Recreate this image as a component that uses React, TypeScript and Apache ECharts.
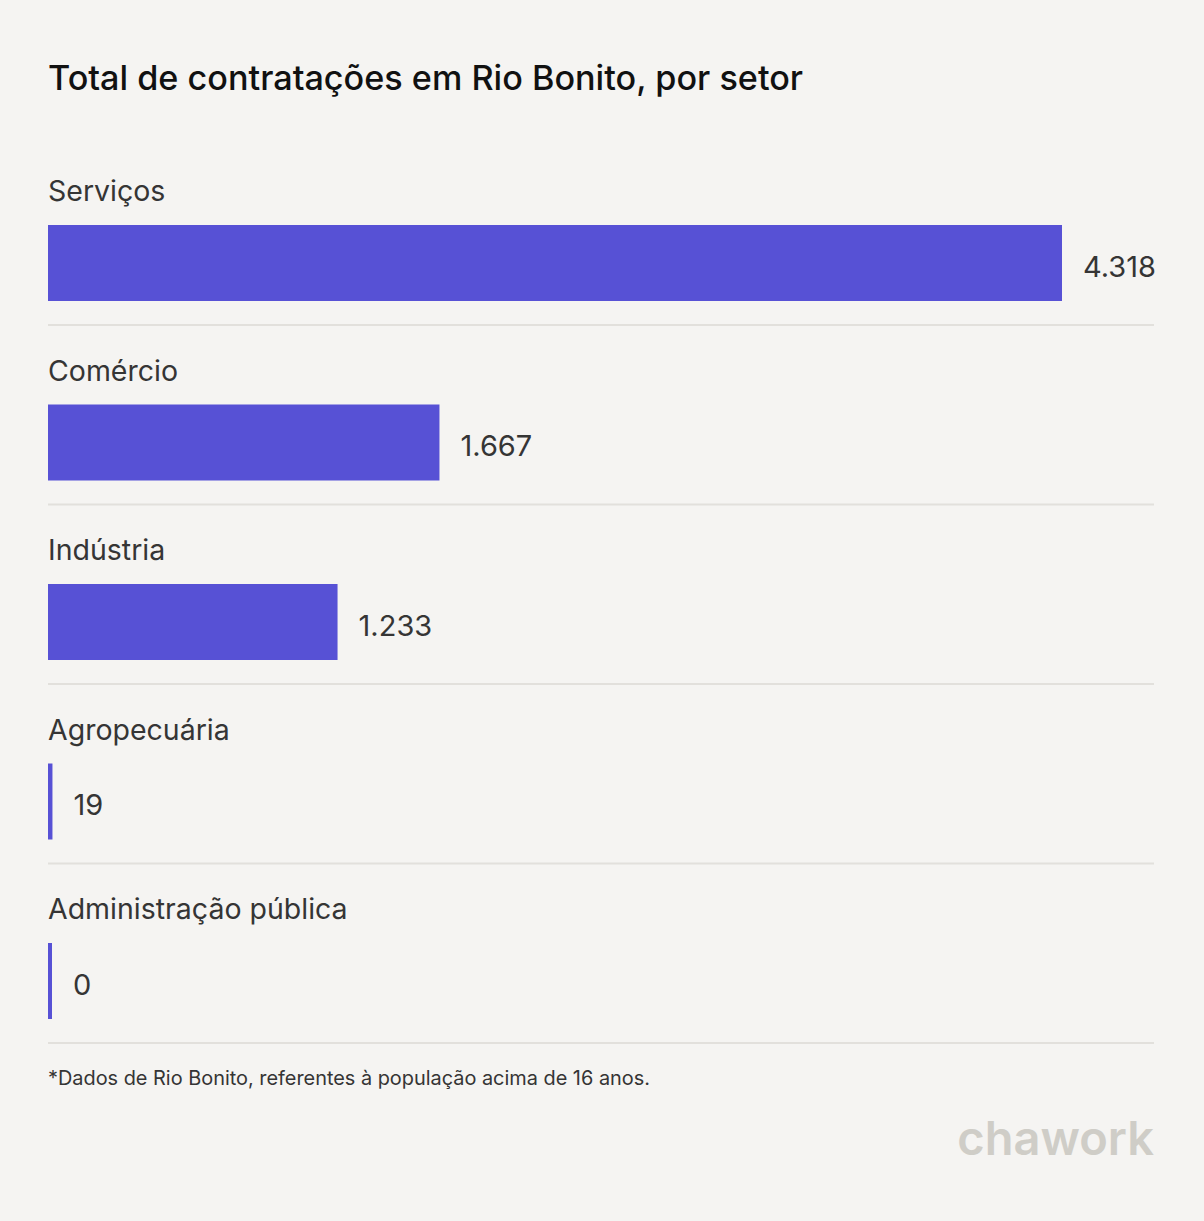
import React, { useEffect, useRef } from "react";
import * as echarts from "echarts";

const title = "Total de contratações em Rio Bonito, por setor";
const footnote = "*Dados de Rio Bonito, referentes à população acima de 16 anos.";
const brand = "chawork";
const categories = ["Serviços", "Comércio", "Indústria", "Agropecuária", "Administração pública"];
const values = [4318, 1667, 1233, 19, 0];

const BG = "#f5f4f2";
const BAR = "#5751d5";
const TEXT = "#353535";
const FONT = "Inter, 'Noto Sans', sans-serif";

const fmt = (v: number) => String(v).replace(/\B(?=(\d{3})+(?!\d))/g, ".");

export default function App() {
  const ref = useRef<HTMLDivElement>(null);
  useEffect(() => {
    document.body.style.margin = "0";
    const chart = echarts.init(ref.current!, null, { renderer: "svg" });
    const gridTop = 173.25;
    const gridH = 897.5;
    chart.setOption({
      animation: false,
      backgroundColor: BG,
      textStyle: { fontFamily: FONT },
      grid: { left: 48, width: 1014, top: gridTop, height: gridH },
      xAxis: { type: "value", min: 0, max: 4318, show: false },
      yAxis: {
        type: "category",
        data: categories,
        inverse: true,
        show: false,
      },
      series: [
        {
          type: "bar",
          data: values,
          barWidth: 76,
          barMinHeight: 4,
          itemStyle: { color: BAR },
          label: {
            show: true,
            position: "right",
            distance: 21,
            offset: [0, 3],
            color: TEXT,
            fontSize: 29,
            fontFamily: FONT,
            formatter: (p: any) => fmt(p.value),
          },
        },
      ],
    });
    const graphics: any[] = [
      {
        type: "text",
        left: 48,
        top: 60,
        style: { text: title, fontSize: 34.2, fontWeight: 500, fill: "#111", fontFamily: FONT },
      },
      {
        type: "text",
        left: 48,
        top: 1068,
        style: { text: footnote, fontSize: 19.9, fill: TEXT, fontFamily: FONT },
      },
      {
        type: "text",
        right: 50,
        top: 1114,
        style: { text: brand, fontSize: 47, fontWeight: 600, fill: "#cfcdc7", fontFamily: FONT },
      },
    ];
    categories.forEach((c, i) => {
      const pt = chart.convertToPixel({ gridIndex: 0 }, [0, i]) as number[];
      const barTop = pt[1] - 38;
      graphics.push({
        type: "text",
        x: 48,
        y: barTop - 34.5,
        style: { text: c, fontSize: 28.5, fill: TEXT, fontFamily: FONT, verticalAlign: "middle" },
      });
      graphics.push({
        type: "line",
        shape: { x1: 48, y1: barTop + 100, x2: 1154, y2: barTop + 100 },
        style: { stroke: "#e2e0dc", lineWidth: 2 },
      });
    });
    chart.setOption({ graphic: graphics });
    return () => chart.dispose();
  }, []);
  return <div ref={ref} style={{ width: 1204, height: 1221, position: "absolute", left: 0, top: 0 }} />;
}
